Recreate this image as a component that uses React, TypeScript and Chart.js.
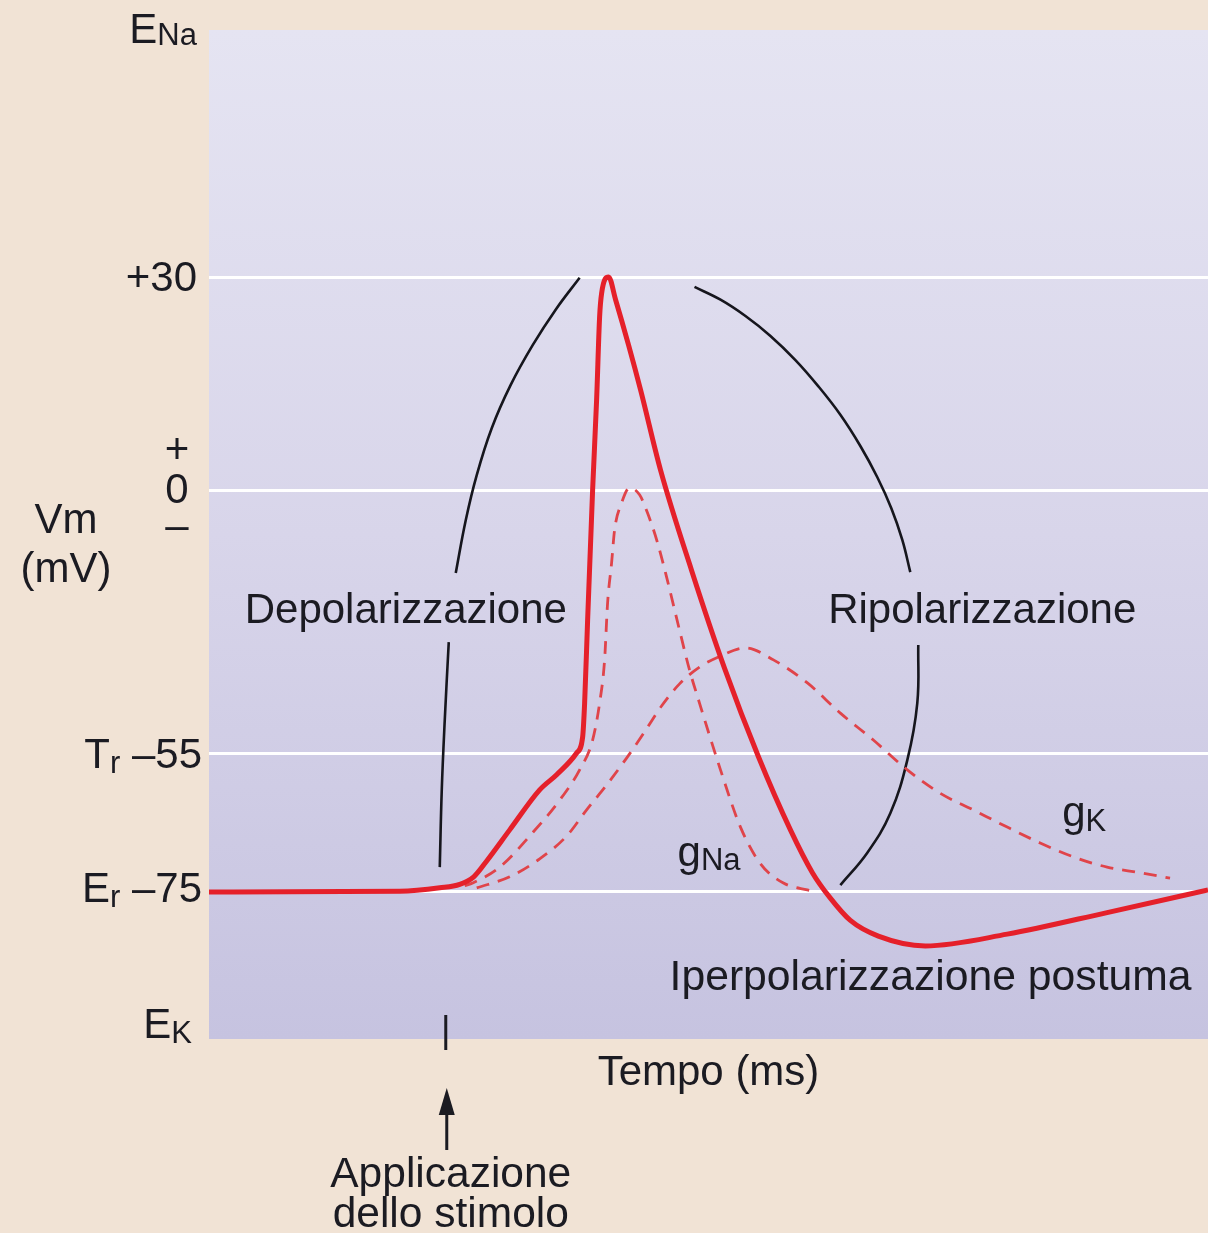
import { useEffect, useRef } from 'react';
import { Chart, registerables, LinearScale } from 'chart.js';

// ---- Data -------------------------------------------------------------

// Reference potentials (mV)
const E_NA = 60;
const E_K = -90;
const V_PEAK = 30;
const V_THRESHOLD = -55;
const V_REST = -75;
const GRID_LEVELS = [V_PEAK, 0, V_THRESHOLD, V_REST];

// Time axis (ms)
const T_START = 0;
const T_END = 10;
const STIMULUS_T = 2.37;

// Membrane potential Vm (mV) over time (ms)
const VM_TIME = [0, 1.91, 2.31, 2.51, 2.65, 2.78, 3.01, 3.31, 3.48, 3.68, 3.74, 3.76, 3.79, 3.84, 3.88, 3.91, 3.93, 4.0, 4.07, 4.2, 4.32, 4.52, 4.83, 5.16, 5.5, 5.82, 6.04, 6.21, 6.42, 6.7, 7.17, 7.99, 8.99, 10.0];
const VM_VALUES = [-75, -74.9, -74.4, -73.9, -72.8, -70.5, -66.0, -60.2, -58.0, -54.8, -51.5, -44.4, -27.1, 0, 12.7, 24.4, 27.7, 30, 26.8, 20.4, 14.1, 2.8, -16.7, -37.1, -55.4, -66.0, -72.2, -75.5, -77.9, -79.5, -80.5, -79.3, -77.1, -74.7];

// Sodium conductance gNa (drawn on the potential scale)
const GNA_TIME = [2.56, 2.64, 2.91, 3.24, 3.51, 3.71, 3.84, 3.91, 3.96, 3.99, 4.03, 4.06, 4.13, 4.21, 4.31, 4.39, 4.49, 4.58, 4.71, 4.81, 4.91, 5.12, 5.32, 5.52, 5.75, 5.99, 6.09];
const GNA_VALUES = [-74.1, -73.7, -71.4, -66.4, -61.7, -57.3, -52.1, -44.4, -35.4, -23.5, -15.2, -8.3, -2.7, 0.3, -1.0, -4.8, -11.0, -18.1, -29.2, -37.5, -44.4, -57.3, -65.6, -70.9, -73.7, -74.7, -75.0];

// Potassium conductance gK (drawn on the potential scale)
const GK_TIME = [2.68, 3.01, 3.31, 3.58, 3.78, 3.98, 4.18, 4.36, 4.53, 4.71, 4.91, 5.12, 5.37, 5.65, 5.99, 6.32, 6.65, 6.99, 7.32, 7.65, 7.99, 8.32, 8.65, 8.99, 9.32, 9.62];
const GK_VALUES = [-74.4, -72.8, -70.2, -66.9, -63.1, -59.5, -55.6, -50.4, -45.0, -40.4, -36.9, -34.6, -32.9, -35.4, -40.2, -46.5, -52.1, -57.3, -60.7, -63.1, -65.6, -67.9, -69.9, -71.4, -72.2, -73.0];

// Bracket arcs marking the depolarization and repolarization phases
const DEPOL_UPPER_TIME = [2.47, 2.57, 2.68, 2.83, 3.02, 3.24, 3.47, 3.71];
const DEPOL_UPPER_VALUES = [-17.3, -6.3, 2.1, 8.7, 14.8, 20.4, 25.4, 29.9];
const DEPOL_LOWER_TIME = [2.31, 2.33, 2.36, 2.4];
const DEPOL_LOWER_VALUES = [-71.4, -60.2, -47.9, -31.7];
const REPOL_UPPER_TIME = [4.86, 5.12, 5.37, 5.62, 5.87, 6.1, 6.32, 6.52, 6.69, 6.83, 6.94, 7.02];
const REPOL_UPPER_VALUES = [28.6, 26.8, 24.5, 21.7, 18.3, 14.6, 10.6, 6.2, 1.8, -3.8, -10.4, -17.1];
const REPOL_LOWER_TIME = [7.1, 7.09, 6.99, 6.82, 6.59, 6.32];
const REPOL_LOWER_VALUES = [-32.3, -44.4, -55.9, -63.6, -69.3, -74.0];

// ---- Segmented potential scale ---------------------------------------
// The diagram is schematic: each band between reference potentials has
// its own height, so the axis is linear piece by piece.
const AXIS_MV = [E_K, V_REST, V_THRESHOLD, 0, V_PEAK, E_NA];
const AXIS_FRAC = [0, 0.1457, 0.2825, 0.5441, 0.7552, 1];

function mvToFrac(v: number): number {
  const n = AXIS_MV.length;
  for (let i = 1; i < n; i++) {
    if (v <= AXIS_MV[i] || i === n - 1) {
      const a = AXIS_MV[i - 1], b = AXIS_MV[i];
      return AXIS_FRAC[i - 1] + ((v - a) / (b - a)) * (AXIS_FRAC[i] - AXIS_FRAC[i - 1]);
    }
  }
  return 0;
}

function fracToMv(f: number): number {
  const n = AXIS_FRAC.length;
  for (let i = 1; i < n; i++) {
    if (f <= AXIS_FRAC[i] || i === n - 1) {
      const a = AXIS_FRAC[i - 1], b = AXIS_FRAC[i];
      return AXIS_MV[i - 1] + ((f - a) / (b - a)) * (AXIS_MV[i] - AXIS_MV[i - 1]);
    }
  }
  return 0;
}

class SegmentedScale extends LinearScale {
  static id = 'segmented';
  static defaults = LinearScale.defaults;
  getPixelForValue(value: number) {
    if (value === null || value === undefined || isNaN(value)) return NaN;
    return this.getPixelForDecimal(mvToFrac(value));
  }
  getValueForPixel(pixel: number) {
    return fracToMv(this.getDecimalForPixel(pixel));
  }
}

Chart.register(...registerables, SegmentedScale as any);

// ---- Drawing helpers ---------------------------------------------------
const FONT = '"Liberation Sans", Arial, Helvetica, sans-serif';
const TEXT = '#1b1b22';
const MAIN = 42;
const SUB = 31;

type Run = { text: string; size: number; dy?: number };

function drawRuns(ctx: CanvasRenderingContext2D, runs: Run[], x: number, y: number, align: 'left' | 'right' | 'center') {
  const widths = runs.map((r) => {
    ctx.font = `${r.size}px ${FONT}`;
    return ctx.measureText(r.text).width;
  });
  const total = widths.reduce((a, b) => a + b, 0);
  let cx = align === 'left' ? x : align === 'right' ? x - total : x - total / 2;
  ctx.textAlign = 'left';
  ctx.textBaseline = 'alphabetic';
  runs.forEach((r, i) => {
    ctx.font = `${r.size}px ${FONT}`;
    ctx.fillText(r.text, cx, y + (r.dy || 0));
    cx += widths[i];
  });
}

const pts = (xs: number[], ys: number[]) => xs.map((x, i) => ({ x, y: ys[i] }));

const backgroundPlugin = {
  id: 'panelBackground',
  beforeDraw(chart: any) {
    const { ctx, chartArea: a, width, height } = chart;
    ctx.save();
    ctx.fillStyle = '#f1e3d5';
    ctx.fillRect(0, 0, width, height);
    const g = ctx.createLinearGradient(0, a.top, 0, a.bottom);
    g.addColorStop(0, '#e5e4f2');
    g.addColorStop(0.5, '#d8d5ea');
    g.addColorStop(1, '#c6c3e0');
    ctx.fillStyle = g;
    ctx.fillRect(a.left, a.top, a.right - a.left, a.bottom - a.top);
    ctx.restore();
  },
};

const labelsPlugin = {
  id: 'diagramLabels',
  afterDraw(chart: any) {
    const { ctx, chartArea: a } = chart;
    const x = chart.scales.x;
    const y = chart.scales.y;
    ctx.save();
    ctx.fillStyle = TEXT;

    // Potential axis labels
    const right = a.left - 12;
    drawRuns(ctx, [{ text: 'E', size: MAIN }, { text: 'Na', size: SUB, dy: 2 }], right, a.top + 13, 'right');
    drawRuns(ctx, [{ text: '+30', size: MAIN }], right, y.getPixelForValue(V_PEAK) + 14, 'right');
    const y0 = y.getPixelForValue(0);
    const signX = a.left - 32;
    drawRuns(ctx, [{ text: '+', size: MAIN }], signX, y0 - 27, 'center');
    drawRuns(ctx, [{ text: '0', size: MAIN }], signX, y0 + 13, 'center');
    drawRuns(ctx, [{ text: '\u2013', size: MAIN }], signX, y0 + 49, 'center');
    drawRuns(ctx, [{ text: 'Vm', size: MAIN }], 66, y0 + 43, 'center');
    drawRuns(ctx, [{ text: '(mV)', size: MAIN }], 66, y0 + 92, 'center');
    drawRuns(ctx, [{ text: 'T', size: MAIN }, { text: 'r', size: SUB, dy: 5 }, { text: ' \u201355', size: MAIN }], a.left - 7, y.getPixelForValue(V_THRESHOLD) + 14, 'right');
    drawRuns(ctx, [{ text: 'E', size: MAIN }, { text: 'r', size: SUB, dy: 5 }, { text: ' \u201375', size: MAIN }], a.left - 7, y.getPixelForValue(V_REST) + 10, 'right');
    drawRuns(ctx, [{ text: 'E', size: MAIN }, { text: 'K', size: SUB, dy: 5 }], a.left - 17, a.bottom - 1, 'right');

    // Phase and curve labels
    drawRuns(ctx, [{ text: 'Depolarizzazione', size: MAIN }], x.getPixelForValue(1.97), y.getPixelForValue(-27.7), 'center');
    drawRuns(ctx, [{ text: 'Ripolarizzazione', size: MAIN }], x.getPixelForValue(7.74), y.getPixelForValue(-27.7), 'center');
    drawRuns(ctx, [{ text: 'g', size: MAIN }, { text: 'Na', size: SUB, dy: 4 }], x.getPixelForValue(4.69), y.getPixelForValue(-71.2), 'left');
    drawRuns(ctx, [{ text: 'g', size: MAIN }, { text: 'K', size: SUB, dy: 5 }], x.getPixelForValue(8.54), y.getPixelForValue(-65.4), 'left');
    drawRuns(ctx, [{ text: 'Iperpolarizzazione postuma', size: 42.7 }], x.getPixelForValue(4.61), y.getPixelForValue(-85), 'left');

    // Time axis title
    drawRuns(ctx, [{ text: 'Tempo (ms)', size: MAIN }], x.getPixelForValue(5.0), a.bottom + 46, 'center');

    // Stimulus marker and arrow
    const sx = x.getPixelForValue(STIMULUS_T);
    ctx.strokeStyle = TEXT;
    ctx.lineWidth = 3;
    ctx.beginPath();
    ctx.moveTo(sx, a.bottom - 24);
    ctx.lineTo(sx, a.bottom + 11);
    ctx.stroke();
    ctx.beginPath();
    ctx.moveTo(sx + 1, a.bottom + 70);
    ctx.lineTo(sx + 1, a.bottom + 111);
    ctx.stroke();
    ctx.beginPath();
    ctx.moveTo(sx + 1, a.bottom + 49);
    ctx.lineTo(sx + 1 - 8, a.bottom + 76);
    ctx.lineTo(sx + 1 + 8, a.bottom + 76);
    ctx.closePath();
    ctx.fill();
    drawRuns(ctx, [{ text: 'Applicazione', size: 42.5 }], sx + 5, a.bottom + 148, 'center');
    drawRuns(ctx, [{ text: 'dello stimolo', size: 42.5 }], sx + 5, a.bottom + 188, 'center');

    ctx.restore();
  },
};

export default function App() {
  const canvasRef = useRef<HTMLCanvasElement | null>(null);

  useEffect(() => {
    const canvas = canvasRef.current;
    if (!canvas) return;

    const red = '#e5202a';
    const dashRed = '#e0444a';
    const ink = '#16161d';
    const arc = (xs: number[], ys: number[]) => ({
      data: pts(xs, ys),
      borderColor: ink,
      borderWidth: 2.6,
      pointRadius: 0,
      tension: 0.4,
      fill: false,
    });

    const chart = new Chart(canvas, {
      type: 'line',
      data: {
        datasets: [
          {
            label: 'Vm',
            data: pts(VM_TIME, VM_VALUES),
            borderColor: red,
            borderWidth: 5,
            pointRadius: 0,
            cubicInterpolationMode: 'monotone',
            fill: false,
          },
          {
            label: 'gNa',
            data: pts(GNA_TIME, GNA_VALUES),
            borderColor: dashRed,
            borderWidth: 2.8,
            borderDash: [13, 9],
            pointRadius: 0,
            cubicInterpolationMode: 'monotone',
            fill: false,
          },
          {
            label: 'gK',
            data: pts(GK_TIME, GK_VALUES),
            borderColor: dashRed,
            borderWidth: 2.8,
            borderDash: [13, 9],
            pointRadius: 0,
            cubicInterpolationMode: 'monotone',
            fill: false,
          },
          { label: 'depol-a', ...arc(DEPOL_UPPER_TIME, DEPOL_UPPER_VALUES) },
          { label: 'depol-b', ...arc(DEPOL_LOWER_TIME, DEPOL_LOWER_VALUES) },
          { label: 'repol-a', ...arc(REPOL_UPPER_TIME, REPOL_UPPER_VALUES) },
          { label: 'repol-b', ...arc(REPOL_LOWER_TIME, REPOL_LOWER_VALUES) },
        ] as any,
      },
      options: {
        responsive: false,
        maintainAspectRatio: false,
        devicePixelRatio: 1,
        animation: false,
        layout: { padding: { left: 209, top: 30, right: 0, bottom: 194 } },
        plugins: {
          legend: { display: false },
          tooltip: { enabled: false },
        },
        scales: {
          x: { type: 'linear', min: T_START, max: T_END, display: false },
          y: {
            type: 'segmented' as any,
            min: E_K,
            max: E_NA,
            afterBuildTicks: (scale: any) => {
              scale.ticks = GRID_LEVELS.map((value) => ({ value }));
            },
            ticks: { display: false },
            grid: { color: '#ffffff', lineWidth: 3, drawTicks: false },
            border: { display: false },
          },
        } as any,
      },
      plugins: [backgroundPlugin, labelsPlugin],
    });

    return () => chart.destroy();
  }, []);

  return (
    <div style={{ position: 'absolute', left: 0, top: 0, width: 1208, height: 1233 }}>
      <canvas ref={canvasRef} width={1208} height={1233} style={{ display: 'block' }} />
    </div>
  );
}
